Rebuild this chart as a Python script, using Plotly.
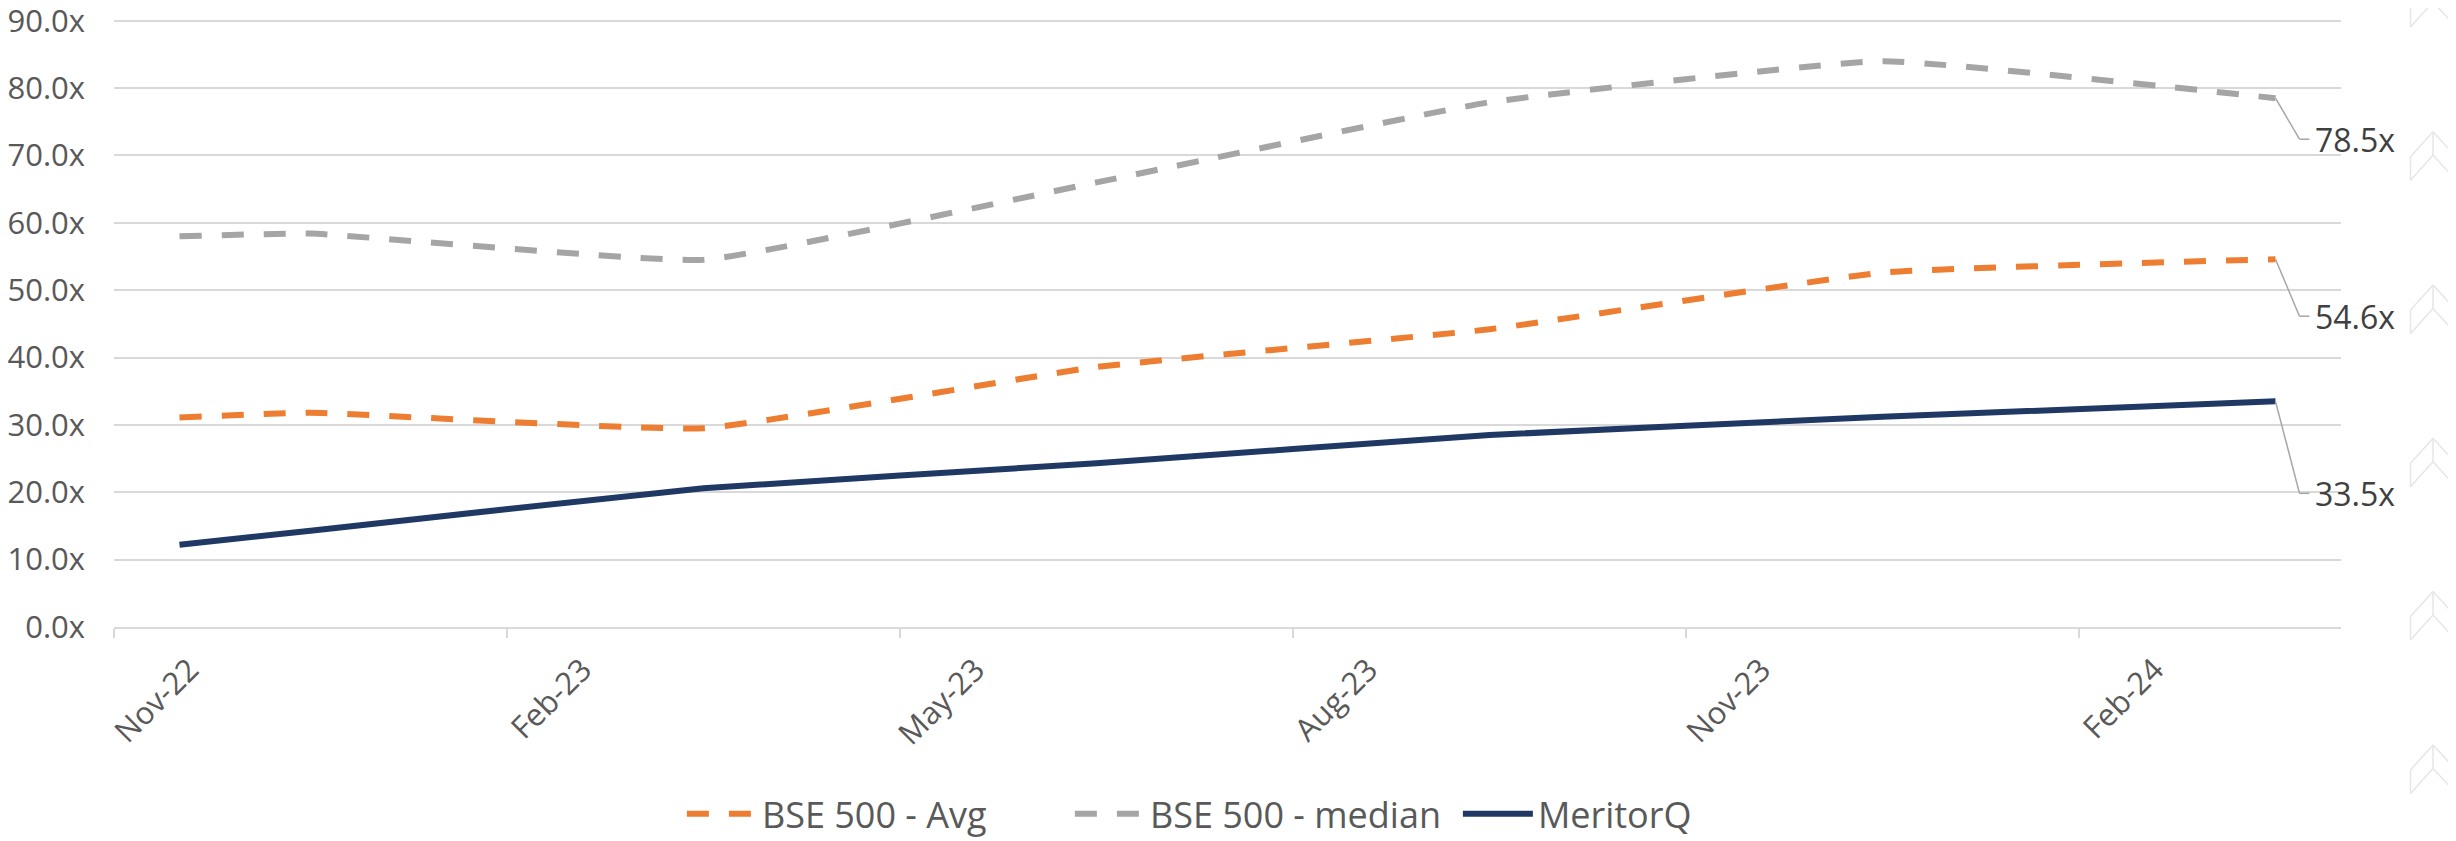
import pandas as pd
import plotly.graph_objects as go

# ---------------- data ----------------
months = ["2022-11", "2022-12", "2023-03", "2023-06", "2023-09", "2023-12", "2024-03"]
bse_avg = [31.1, 31.8, 29.5, 38.6, 44.2, 52.6, 54.6]
bse_median = [58.0, 58.4, 54.5, 66.0, 77.9, 84.0, 78.5]
meritorq = [12.2, 14.3, 20.6, 24.3, 28.5, 31.2, 33.5]

series_names = ["BSE 500 - Avg", "BSE 500 - median", "MeritorQ"]
axis_first_month = "2022-11"
axis_last_month = "2024-03"
tick_months = ["2022-11", "2023-02", "2023-05", "2023-08", "2023-11", "2024-02"]
tick_labels = ["Nov-22", "Feb-23", "May-23", "Aug-23", "Nov-23", "Feb-24"]
y_ticks = [0, 10, 20, 30, 40, 50, 60, 70, 80, 90]

# ---------------- styles ----------------
colors = ["#ED7D31", "#A5A5A5", "#1F3864"]
dashes = ["22px,20px", "22px,20px", "solid"]
label_drop_px = [57, 41, 92]  # vertical drop of end-labels below the last point
GRID = "#d9d9d9"
TXT = "#595959"
FONT = "Open Sans"


def month_index(m):
    return (pd.Period(m, "M") - pd.Period(axis_first_month, "M")).n


x_vals = [month_index(m) + 0.5 for m in months]
x_end = month_index(axis_last_month) + 1
tick_centers = [month_index(m) + 0.5 for m in tick_months]
tick_bounds = [month_index(m) for m in tick_months]
y_tick_text = [f"{v:.1f}x" for v in y_ticks]

fig = go.Figure()
for name, vals, col, dsh in zip(series_names, [bse_avg, bse_median, meritorq], colors, dashes):
    fig.add_trace(go.Scatter(
        x=x_vals, y=vals, name=name, mode="lines",
        line=dict(color=col, width=6, dash=dsh, shape="spline", smoothing=0.35),
        hoverinfo="skip",
    ))

# end-of-series labels with leader lines
shapes = []
annotations = []
for vals, drop in zip([bse_avg, bse_median, meritorq], label_drop_px):
    xv, yv = x_vals[-1], vals[-1]
    shapes.append(dict(type="line", xref="x", yref="y", xsizemode="pixel", ysizemode="pixel",
                       xanchor=xv, yanchor=yv, x0=0, y0=0, x1=24, y1=-drop,
                       line=dict(color="#a6a6a6", width=1.5)))
    shapes.append(dict(type="line", xref="x", yref="y", xsizemode="pixel", ysizemode="pixel",
                       xanchor=xv, yanchor=yv, x0=24, y0=-drop, x1=34, y1=-drop,
                       line=dict(color="#a6a6a6", width=1.5)))
    annotations.append(dict(x=xv, y=yv, xref="x", yref="y", text=f"{yv:.1f}x",
                            showarrow=False, xanchor="left", yanchor="middle",
                            xshift=37, yshift=-drop,
                            font=dict(family=FONT, size=32, color="#404040")))

# faint decorative chevrons at the right edge
CHEV = "#e6e6e6"
for k in range(-1, 5):
    ay = 117.7 + 153.3 * k
    ax = 92
    segs = [
        (ax, ay, ax - 22.5, ay + 25),
        (ax, ay, ax + 23, ay + 25),
        (ax, ay, ax, ay + 23.5),
        (ax, ay + 23.5, ax - 22.5, ay + 48.5),
        (ax, ay + 23.5, ax + 23, ay + 48.5),
        (ax - 22.5, ay + 25, ax - 22.5, ay + 48.5),
    ]
    for (sx0, sy0, sx1, sy1) in segs:
        shapes.append(dict(type="line", xref="paper", yref="paper", xsizemode="pixel",
                           ysizemode="pixel", xanchor=1, yanchor=1,
                           x0=sx0, y0=-sy0, x1=sx1, y1=-sy1,
                           line=dict(color=CHEV, width=1.5), layer="below"))

# the page body adds an 8px offset, so the figure is 8px smaller than the window
fig.update_layout(
    width=2448, height=833,
    margin=dict(l=106, r=115, t=6, b=214, autoexpand=False),
    paper_bgcolor="white", plot_bgcolor="white",
    font=dict(family=FONT, color=TXT),
    showlegend=True,
    legend=dict(orientation="h", x=0.255, xanchor="left", y=-0.305, yanchor="middle",
                font=dict(family=FONT, size=36, color=TXT), itemwidth=70,
                entrywidth=303, entrywidthmode="pixels",
                bgcolor="rgba(0,0,0,0)"),
    xaxis=dict(
        range=[0, x_end], tickmode="array", tickvals=tick_centers, ticktext=tick_labels,
        tickangle=-45, ticks="", ticklabelstandoff=10, ticklabelshift=10, automargin=False,
        tickfont=dict(family=FONT, size=31, color=TXT),
        showgrid=False, zeroline=False, showline=True, linecolor=GRID, linewidth=2,
        minor=dict(tickmode="array", tickvals=tick_bounds, ticks="outside", ticklen=9,
                   tickwidth=2, tickcolor=GRID, showgrid=False),
    ),
    yaxis=dict(
        range=[0, 91], tickmode="array", tickvals=y_ticks, ticktext=y_tick_text,
        showgrid=True, gridcolor=GRID, gridwidth=2, zeroline=False, showline=False,
        ticks="", ticklabelstandoff=28, automargin=False, ticklabeloverflow="allow",
        tickfont=dict(family=FONT, size=31, color=TXT),
    ),
    shapes=shapes,
    annotations=annotations,
)

fig.write_html("out.html")
